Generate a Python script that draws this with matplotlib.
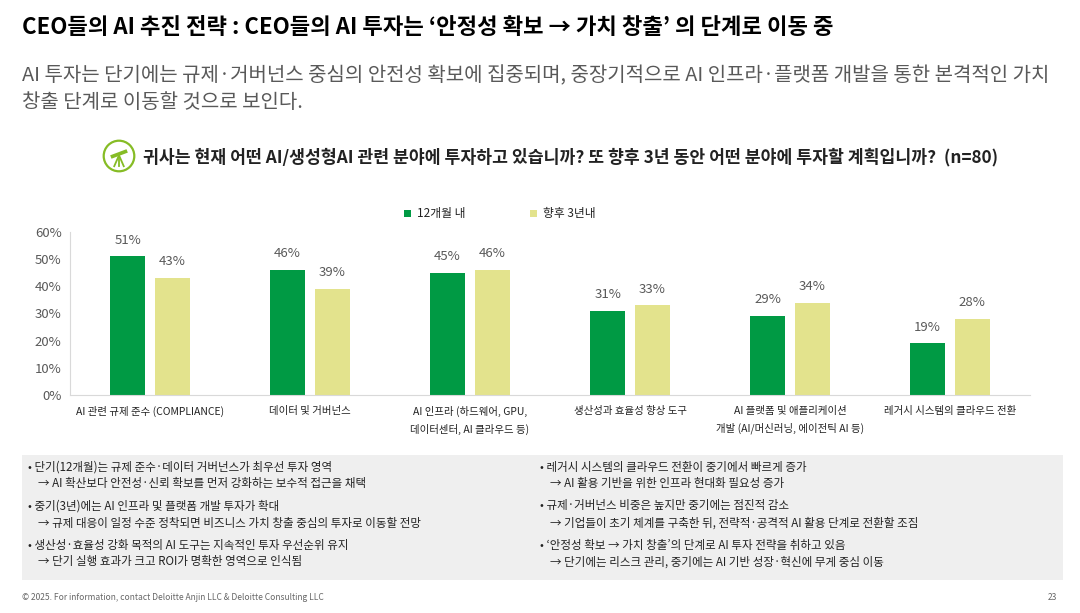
import matplotlib
matplotlib.use('Agg')
import matplotlib.pyplot as plt
from matplotlib.patches import Circle, Rectangle, Polygon
import numpy as np

plt.rcParams['font.family'] = ['Noto Sans CJK KR', 'DejaVu Sans']

# 데이터
categories = [
    'AI 관련 규제 준수 (COMPLIANCE)',
    '데이터 및 거버넌스',
    'AI 인프라 (하드웨어, GPU,\n데이터센터, AI 클라우드 등)',
    '생산성과 효율성 향상 도구',
    'AI 플랫폼 및 애플리케이션\n개발 (AI/머신러닝, 에이전틱 AI 등)',
    '레거시 시스템의 클라우드 전환',
]
within_12m = [51, 46, 45, 31, 29, 19]
within_3y = [43, 39, 46, 33, 34, 28]
series_names = ['12개월 내', '향후 3년내']
y_ticks = [0, 10, 20, 30, 40, 50, 60]

title = 'CEO들의 AI 추진 전략 : CEO들의 AI 투자는 ‘안정성 확보 → 가치 창출’ 의 단계로 이동 중'
subtitle = ('AI 투자는 단기에는 규제·거버넌스 중심의 안전성 확보에 집중되며, 중장기적으로 AI 인프라·플랫폼 개발을 통한 본격적인 가치\n'
            '창출 단계로 이동할 것으로 보인다.')
question = '귀사는 현재 어떤 AI/생성형AI 관련 분야에 투자하고 있습니까? 또 향후 3년 동안 어떤 분야에 투자할 계획입니까?  (n=80)'

notes_left = [
    ('• 단기(12개월)는 규제 준수·데이터 거버넌스가 최우선 투자 영역',
     '→ AI 확산보다 안전성·신뢰 확보를 먼저 강화하는 보수적 접근을 채택'),
    ('• 중기(3년)에는 AI 인프라 및 플랫폼 개발 투자가 확대',
     '→ 규제 대응이 일정 수준 정착되면 비즈니스 가치 창출 중심의 투자로 이동할 전망'),
    ('• 생산성·효율성 강화 목적의 AI 도구는 지속적인 투자 우선순위 유지',
     '→ 단기 실행 효과가 크고 ROI가 명확한 영역으로 인식됨'),
]
notes_right = [
    ('• 레거시 시스템의 클라우드 전환이 중기에서 빠르게 증가',
     '→ AI 활용 기반을 위한 인프라 현대화 필요성 증가'),
    ('• 규제·거버넌스 비중은 높지만 중기에는 점진적 감소',
     '→ 기업들이 초기 체계를 구축한 뒤, 전략적·공격적 AI 활용 단계로 전환할 조짐'),
    ('• ‘안정성 확보 → 가치 창출’의 단계로 AI 투자 전략을 취하고 있음',
     '→ 단기에는 리스크 관리, 중기에는 AI 기반 성장·혁신에 무게 중심 이동'),
]

green = '#009A44'
yellow = '#E3E38D'
grey = '#595959'
dark = '#222222'

W, H = 1080, 613
fig = plt.figure(figsize=(W / 100, H / 100), dpi=100)
fig.patch.set_facecolor('white')

def fx(px):
    return px / W

def fy(py):
    return 1 - py / H

# 제목
fig.text(fx(22), fy(27), title, fontsize=16, fontweight='bold', color='black', va='center', ha='left')
fig.text(fx(22), fy(89), subtitle, fontsize=14.4, color=grey, va='center', ha='left', linespacing=1.35)

# 질문 + 아이콘
fig.text(fx(143), fy(157), question, fontsize=12.4, fontweight='bold', color=dark, va='center', ha='left')
icon_ax = fig.add_axes([fx(102), fy(173), fx(34), 34 / H])
icon_ax.set_xlim(0, 1)
icon_ax.set_ylim(0, 1)
icon_ax.set_aspect('equal')
icon_ax.axis('off')
icon_ax.add_patch(Circle((0.5, 0.5), 0.45, fill=False, edgecolor='#86BC25', linewidth=1.6))
icon_ax.add_patch(Polygon([[0.24, 0.52], [0.72, 0.70], [0.76, 0.60], [0.28, 0.42]], closed=True,
                          facecolor='#86BC25', edgecolor='none'))
icon_ax.plot([0.5, 0.36], [0.52, 0.2], color='#86BC25', lw=1.3)
icon_ax.plot([0.5, 0.64], [0.52, 0.2], color='#86BC25', lw=1.3)
icon_ax.plot([0.5, 0.5], [0.52, 0.2], color='#86BC25', lw=1.3)

# 막대 차트
ax = fig.add_axes([fx(70), fy(395), fx(960), (395 - 232) / H])
x = np.arange(len(categories))
w = 0.22
off = 0.14
b1 = ax.bar(x - off, within_12m, width=w, color=green, label=series_names[0])
b2 = ax.bar(x + off, within_3y, width=w, color=yellow, label=series_names[1])

for bars, vals in ((b1, within_12m), (b2, within_3y)):
    for bar, v in zip(bars, vals):
        ax.annotate(f'{v}%', (bar.get_x() + bar.get_width() / 2, v), xytext=(0, 7),
                    textcoords='offset points', ha='center', va='bottom', fontsize=9.5, color=grey)

ax.set_xlim(-0.5, len(categories) - 0.5)
ax.set_ylim(0, 60)
ax.set_yticks(y_ticks)
ax.set_yticklabels([f'{t}%' for t in y_ticks], fontsize=9.5, color=grey)
ax.set_xticks(x)
ax.set_xticklabels(categories, fontsize=7.5, color=dark, linespacing=1.7)
ax.tick_params(axis='both', length=0)
ax.tick_params(axis='x', pad=8)
ax.tick_params(axis='y', pad=6)
for s in ['top', 'right']:
    ax.spines[s].set_visible(False)
ax.spines['left'].set_color('#D9D9D9')
ax.spines['bottom'].set_color('#D9D9D9')

ax.legend(loc='center', bbox_to_anchor=(fx(500 - 70) / fx(960), (395 - 214) / (395 - 232)),
          ncol=2, frameon=False, fontsize=8.5, handlelength=0.6, handleheight=0.6,
          columnspacing=5.5, handletextpad=0.5, labelcolor=dark)

# 하단 요약 박스
fig.patches.append(Rectangle((fx(22), fy(580)), fx(1041), (580 - 455) / H,
                             transform=fig.transFigure, facecolor='#EFEFEF', edgecolor='none', zorder=0))
line_y = [467, 484, 506, 523, 545, 562]
for col_x, notes in ((28, notes_left), (540, notes_right)):
    for i, (head, sub) in enumerate(notes):
        fig.text(fx(col_x), fy(line_y[2 * i]), head, fontsize=8.3, color=dark, va='center', ha='left')
        fig.text(fx(col_x + 10), fy(line_y[2 * i + 1]), sub, fontsize=8.3, color=dark, va='center', ha='left')

# 하단 출처
fig.text(fx(22), fy(597), '© 2025. For information, contact Deloitte Anjin LLC & Deloitte Consulting LLC',
         fontsize=6.1, color='#666666', va='center', ha='left')
fig.text(fx(1057), fy(597), '23', fontsize=6.1, color='#666666', va='center', ha='right')

fig.savefig('out.png', dpi=100)
